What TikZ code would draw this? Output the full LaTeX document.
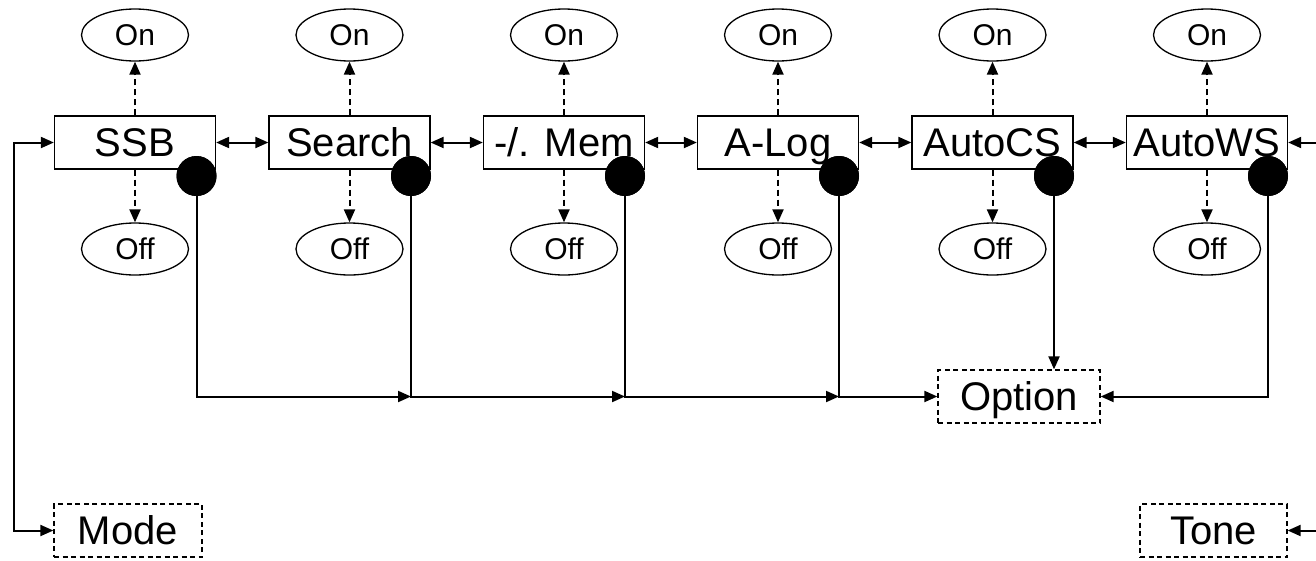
\documentclass[tikz,border=0pt]{standalone}
\usepackage{fontspec}
\setmainfont{Liberation Sans}
\usetikzlibrary{arrows.meta,shapes.geometric,calc}
\begin{document}
\begin{tikzpicture}[x=1pt,y=-1pt,
  menubox/.style={draw,line width=1.3pt,fill=white,minimum width=161pt,minimum height=53pt,inner sep=0pt,text height=28.6pt,text depth=0pt,font=\fontsize{40}{48}\selectfont},
  dashbox/.style={draw,dash pattern=on 5pt off 3.5pt,line width=1.3pt,fill=white,minimum height=53pt,inner sep=0pt,text height=28.6pt,text depth=0pt,font=\fontsize{40}{48}\selectfont},
  onoff/.style={draw,ellipse,line width=1.3pt,minimum width=107pt,minimum height=52pt,inner sep=0pt,text height=21.5pt,text depth=0pt,font=\fontsize{30}{36}\selectfont},
  dot/.style={circle,fill=black,minimum size=40pt,inner sep=0pt},
  conn/.style={line width=2pt,-{Triangle[length=13pt,width=11pt]}},
  biconn/.style={line width=2pt,{Triangle[length=13pt,width=11pt]}-{Triangle[length=13pt,width=11pt]}},
  dconn/.style={line width=2pt,dash pattern=on 6pt off 4pt,-{Triangle[length=13pt,width=11pt]}}]
\useasboundingbox (0,0) rectangle (1316,560);
% main boxes
\node[menubox] (b1) at (135,142.5) {SSB};
\node[menubox] (b2) at (349.5,142.5) {Search};
\node[menubox] (b3) at (564,142.5) {-/. Mem};
\node[menubox] (b4) at (778,142.5) {A-Log};
\node[menubox] (b5) at (992.5,142.5) {AutoCS};
\node[menubox] (b6) at (1207,142.5) {AutoWS};
% on/off ellipses
\foreach \i/\x in {1/135,2/349.5,3/564,4/778,5/992.5,6/1207}{
  \node[onoff] (on\i) at (\x,35) {On};
  \node[onoff] (off\i) at (\x,249) {Off};
  \draw[dconn] (b\i.north) -- (on\i.south);
  \draw[dconn] (b\i.south) -- (off\i.north);
}
% dashed target boxes
\node[dashbox,minimum width=162pt] (opt) at (1019,396.5) {Option};
\node[dashbox,minimum width=148pt] (mode) at (128,530.5) {Mode};
\node[dashbox,minimum width=147pt] (tone) at (1213.5,530.5) {Tone};
% dots
\node[dot] (d1) at (196.5,176) {};
\node[dot] (d2) at (411,176) {};
\node[dot] (d3) at (625,176) {};
\node[dot] (d4) at (839,176) {};
\node[dot] (d5) at (1054,176) {};
\node[dot] (d6) at (1268,176) {};
% horizontal links between boxes
\draw[biconn] (b1.east) -- (b2.west);
\draw[biconn] (b2.east) -- (b3.west);
\draw[biconn] (b3.east) -- (b4.west);
\draw[biconn] (b4.east) -- (b5.west);
\draw[biconn] (b5.east) -- (b6.west);
% left loop to Mode
\coordinate (L) at (14,142.5);
\draw[biconn] (b1.west) -- (L) |- (mode.west);
% right free ends
\coordinate (R1) at (1316,142.5);
\coordinate (R2) at (1316,530.5);
\draw[conn] (R1) -- (b6.east);
\draw[conn] (R2) -- (tone.east);
% option bus
\coordinate (j2) at (d2 |- opt.west);
\coordinate (j3) at (d3 |- opt.west);
\coordinate (j4) at (d4 |- opt.west);
\draw[conn] (d1.center) |- (j2);
\draw[conn] (d2.center) |- (j3);
\draw[conn] (d3.center) |- (j4);
\draw[conn] (d4.center) |- (opt.west);
\draw[conn] (d5.center) -- (d5 |- opt.north);
\draw[conn] (d6.center) |- (opt.east);
% redraw dots on top
\foreach \i in {1,...,6}{\fill (d\i) circle (20pt);}
\end{tikzpicture}
\end{document}
